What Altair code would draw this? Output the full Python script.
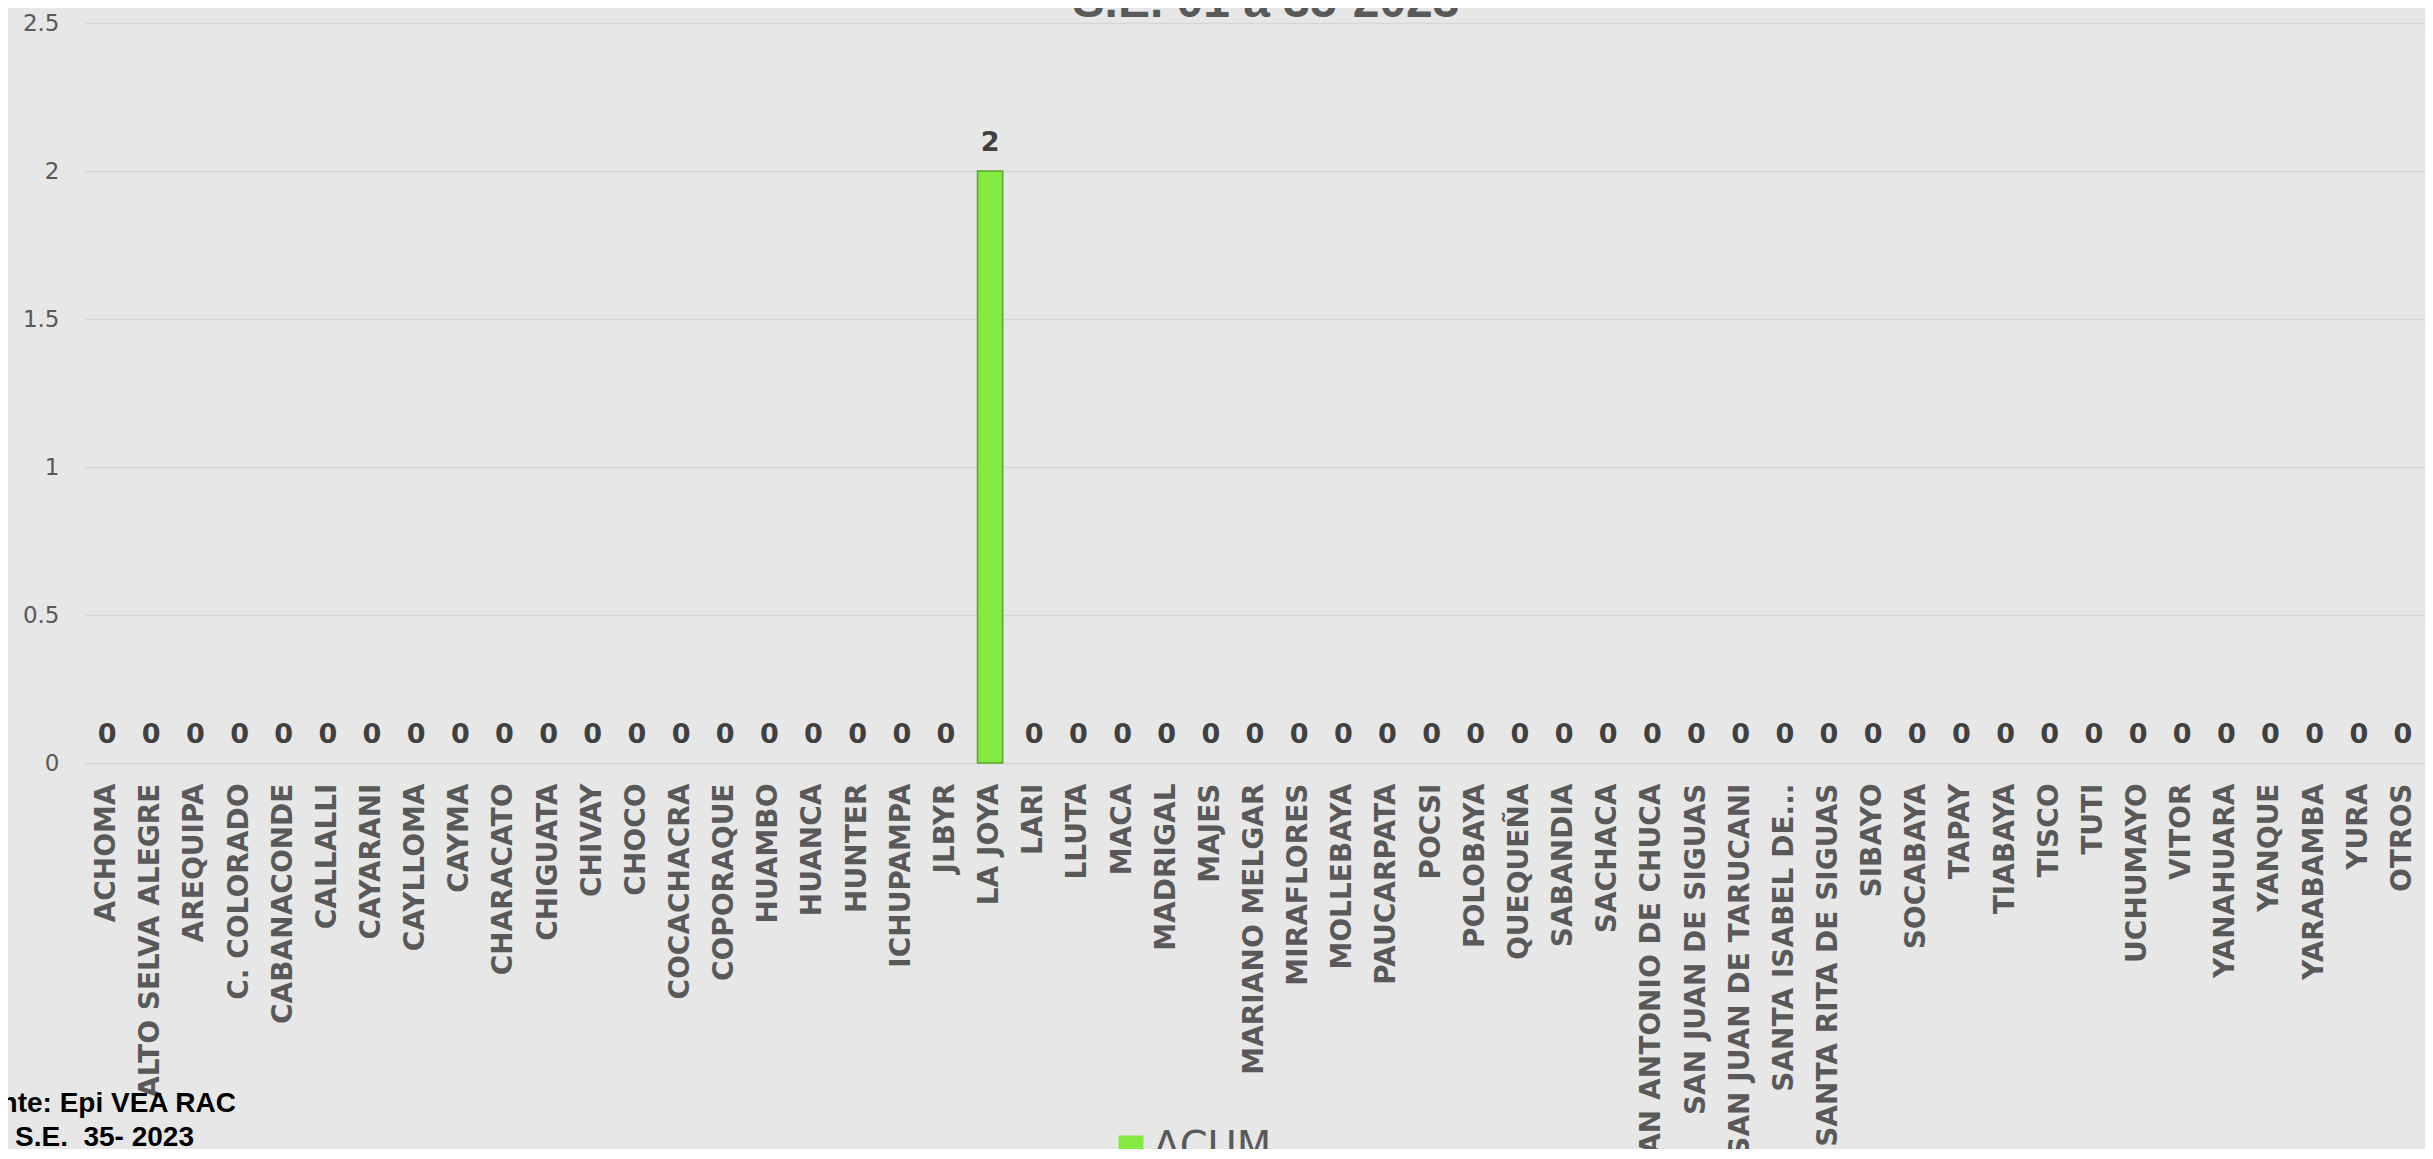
import altair as alt
import pandas as pd

categories = [
    "ACHOMA", "ALTO SELVA ALEGRE", "AREQUIPA", "C. COLORADO", "CABANACONDE",
    "CALLALLI", "CAYARANI", "CAYLLOMA", "CAYMA", "CHARACATO", "CHIGUATA",
    "CHIVAY", "CHOCO", "COCACHACRA", "COPORAQUE", "HUAMBO", "HUANCA", "HUNTER",
    "ICHUPAMPA", "JLBYR", "LA JOYA", "LARI", "LLUTA", "MACA", "MADRIGAL",
    "MAJES", "MARIANO MELGAR", "MIRAFLORES", "MOLLEBAYA", "PAUCARPATA", "POCSI",
    "POLOBAYA", "QUEQUEÑA", "SABANDIA", "SACHACA", "SAN ANTONIO DE CHUCA",
    "SAN JUAN DE SIGUAS", "SAN JUAN DE TARUCANI", "SANTA ISABEL DE...",
    "SANTA RITA DE SIGUAS", "SIBAYO", "SOCABAYA", "TAPAY", "TIABAYA", "TISCO",
    "TUTI", "UCHUMAYO", "VITOR", "YANAHUARA", "YANQUE", "YARABAMBA", "YURA",
    "OTROS",
]
acum = [
    0, 0, 0, 0, 0,
    0, 0, 0, 0, 0, 0,
    0, 0, 0, 0, 0, 0, 0,
    0, 0, 2, 0, 0, 0, 0,
    0, 0, 0, 0, 0, 0,
    0, 0, 0, 0, 0,
    0, 0, 0,
    0, 0, 0, 0, 0, 0,
    0, 0, 0, 0, 0, 0, 0,
    0,
]
series_name = "ACUM"
y_ticks = [0, 0.5, 1, 1.5, 2, 2.5]
title_text = "S.E. 01 a 35-2023"
note_lines = ["Fuente: Epi VEA RAC", "HASTA S.E.\u00a0 35- 2023"]

df = pd.DataFrame({
    "distrito": categories,
    "casos": acum,
    "serie": [series_name] * len(categories),
})

GREY = "#595959"

x_enc = alt.X(
    "distrito:N",
    sort=categories,
    scale=alt.Scale(paddingInner=0, paddingOuter=0),
    axis=alt.Axis(
        title=None, labelAngle=-90, labelFont="DejaVu Sans", labelFontWeight="bold",
        labelFontSize=28, labelColor=GREY, ticks=False, tickSize=0, domain=False,
        labelPadding=20, labelLimit=0, grid=False,
    ),
)
y_enc = alt.Y(
    "casos:Q",
    scale=alt.Scale(domain=[0, 2.5], nice=False),
    axis=alt.Axis(
        title=None, values=y_ticks, format="~g", grid=True, gridColor="#d6d6d6",
        gridWidth=1.5, domain=False, ticks=False, tickSize=0, labelPadding=26,
        labelFont="DejaVu Sans", labelFontSize=23, labelColor=GREY,
    ),
)

base = alt.Chart(df).encode(x=x_enc)

bars = base.mark_bar(width=alt.RelativeBandSize(0.57), stroke="#5aa52c").encode(
    y=y_enc,
    color=alt.Color(
        "serie:N",
        scale=alt.Scale(domain=[series_name], range=["#84ea42"]),
        legend=alt.Legend(
            title=None, orient="none", legendX=1026, legendY=1105,
            symbolType="square", symbolSize=625, symbolStrokeWidth=0,
            symbolOpacity=1, labelFont="DejaVu Sans", labelFontSize=40,
            labelColor=GREY, labelOffset=2, padding=0,
        ),
    ),
    strokeWidth=alt.condition("datum.casos > 0", alt.value(1.5), alt.value(0)),
)

labels = base.mark_text(
    dy=-28, baseline="middle", font="DejaVu Sans", fontWeight="bold",
    fontSize=27, color="#404040",
).encode(y=alt.Y("casos:Q"), text=alt.Text("casos:Q"))

title = alt.Chart(pd.DataFrame({"t": [title_text]})).mark_text(
    font="Liberation Sans", fontWeight="bold", fontSize=48, color=GREY,
    align="center", baseline="alphabetic",
).encode(x=alt.value(1181), y=alt.value(-6), text="t:N")

note1 = alt.Chart(pd.DataFrame({"t": [note_lines[0]]})).mark_text(
    font="Liberation Sans", fontWeight="bold", fontSize=28, color="black",
    align="right", baseline="alphabetic",
).encode(x=alt.value(151), y=alt.value(1089), text="t:N")

note2 = alt.Chart(pd.DataFrame({"t": [note_lines[1]]})).mark_text(
    font="Liberation Sans", fontWeight="bold", fontSize=28, color="black",
    align="right", baseline="alphabetic",
).encode(x=alt.value(109), y=alt.value(1123), text="t:N")

chart = alt.layer(bars, labels, title, note1, note2).properties(
    width=2340,
    height=740,
    padding={"left": 77, "top": 15, "right": 0, "bottom": 386},
    autosize=alt.AutoSizeParams(type="none"),
    background="#e7e7e7",
).configure_view(stroke=None)

chart.save("out.html", embed_options={"renderer": "svg", "actions": False})
